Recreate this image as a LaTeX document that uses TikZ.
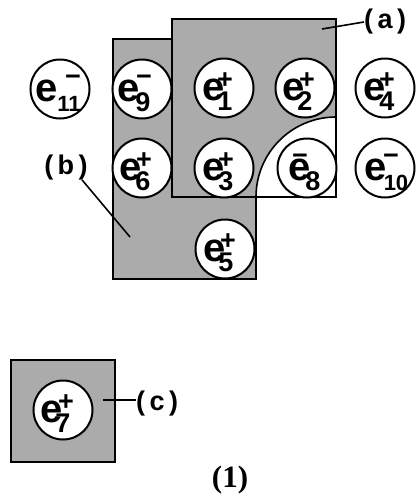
\documentclass[tikz,border=0pt]{standalone}
\usepackage{fontspec}
\setmainfont{Liberation Sans}
\newfontfamily\capfont{Liberation Serif}

% charge signs, raised so the plus sits above and the minus bar higher still
\newcommand\pl{\raisebox{0pt}[0pt][0pt]{\fontsize{27}{27}\selectfont\bfseries +}}
\newcommand\mi{\raisebox{4pt}[0pt][0pt]{\fontsize{27}{27}\selectfont\bfseries −}}
% #1 sign, #2 index, #3 index size, #4 left of e, #5 sign centre, #6 index centre
\newcommand\elab[6]{%
  \makebox[0pt][l]{\hspace*{#4pt}\raisebox{-12pt}[0pt][0pt]{\fontsize{40}{40}\selectfont\bfseries e}}%
  \makebox[0pt][l]{\hspace*{#5pt}\makebox[0pt]{#1}}%
  \makebox[0pt][l]{\hspace*{#6pt}\makebox[0pt]{\raisebox{-22pt}[0pt][0pt]{\fontsize{#3}{#3}\selectfont\bfseries #2}}}}
\newcommand\plab[1]{(\kern4.5pt#1\kern4.5pt)}

\begin{document}
\begin{tikzpicture}[x=1pt,y=-1pt,
  stip/.style={fill=black!33},
  elec/.style={circle, draw=black, line width=2pt, fill=white, minimum size=59pt, inner sep=0pt},
  lab/.style={font=\fontsize{27}{27}\selectfont\bfseries, inner sep=0pt},
  leader/.style={line width=1.6pt}]
\useasboundingbox (0,0) rectangle (416,496);

% region (b)
\fill[stip] (113,39) rectangle (256,279);
% region (a) with its rounded-off corner
\fill[stip] (172,19) -- (336,19) -- (336,117)
  arc[start angle=90, end angle=180, radius=80pt] -- (172,197) -- cycle;
\draw[line width=2.8pt] (172,39) -- (113,39) -- (113,279) -- (256,279) -- (256,197);
\draw[line width=2.2pt] (256,197) -- (172,197) -- (172,19) -- (336,19) -- (336,117);
\draw[line width=1.6pt] (336,117) arc[start angle=90, end angle=180, radius=80pt];
\draw[line width=1.3pt] (336,117) -- (336,197) -- (256,197);

% region (c)
\filldraw[stip, draw=black, line width=2.8pt] (11,360) rectangle (115,462);

% electrons
\node[elec] (e11) at (60,89)  {\elab{\mi}{11}{22}{-25}{13}{9}};
\node[elec] (e9)  at (142,89) {\elab{\mi}{9}{27}{-25}{2}{1}};
\node[elec] (e1)  at (224,88) {\elab{\pl}{1}{27}{-22}{1}{1}};
\node[elec] (e2)  at (305,88) {\elab{\pl}{2}{27}{-23}{2}{0}};
\node[elec] (e4)  at (385,88) {\elab{\pl}{4}{27}{-22}{2}{2}};
\node[elec] (e6)  at (142,168) {\elab{\pl}{6}{27}{-23}{2}{1}};
\node[elec] (e3)  at (224,168) {\elab{\pl}{3}{27}{-22}{2}{2}};
\node[elec] (e8)  at (307,168) {\elab{\mi}{8}{27}{-19}{-7}{6}};
\node[elec] (e10) at (385,168) {\elab{\mi}{10}{22}{-21}{6}{11}};
\node[elec] (e5)  at (225,249) {\elab{\pl}{5}{27}{-22}{3}{1}};
\node[elec] (e7)  at (63,410)  {\elab{\pl}{7}{27}{-22}{3}{0}};

% region labels and leaders
\coordinate (pa) at (322,29);
\coordinate (pb) at (130,237);
\coordinate (pc) at (103,400);
\node[lab, anchor=west] (la) at (364,22) {\plab{a}};
\node[lab] (lb) at (66,168) {\plab{b}};
\node[lab, anchor=west] (lc) at (136,404) {\plab{c}};
\draw[leader] (pa) -- (la.west);
\draw[leader] ([xshift=-6pt,yshift=1pt]lb.south east) -- (pb);
\draw[leader] (pc) -- (lc.west |- pc);

\node[font=\capfont\bfseries\fontsize{31}{31}\selectfont, inner sep=0pt] (cap) at (230,480) {(1)};
\end{tikzpicture}
\end{document}
